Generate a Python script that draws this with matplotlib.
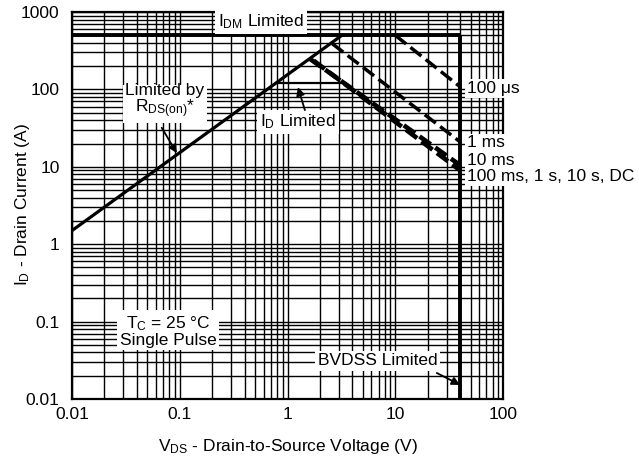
import matplotlib
matplotlib.use('Agg')
import matplotlib.pyplot as plt
from matplotlib.ticker import LogLocator, FuncFormatter, NullFormatter

plt.rcParams['font.family'] = ['Liberation Sans', 'DejaVu Sans']
plt.rcParams['mathtext.fontset'] = 'custom'
plt.rcParams['mathtext.rm'] = 'Liberation Sans'
plt.rcParams['mathtext.it'] = 'Liberation Sans:italic'
plt.rcParams['mathtext.bf'] = 'Liberation Sans:bold'

# ---- data (V, A) ----
idm_v = [0.01, 40]
idm_i = [500, 500]
bvdss_v = [40, 40]
bvdss_i = [500, 0.01]
rds_v = [0.01, 3.2]
rds_i = [1.5, 500]
idlim_v = [0.8, 3.27]
idlim_i = [120, 120]
us100_v = [10, 40]
us100_i = [500, 108]
ms1_v = [2.6, 40]
ms1_i = [390, 21]
ms10_v = [1.6, 40]
ms10_i = [250, 10.5]
dc_v = [1.75, 40]
dc_i = [235, 9]

x_ticks = [0.01, 0.1, 1, 10, 100]
y_ticks = [0.01, 0.1, 1, 10, 100, 1000]

FS = 12.5

fig = plt.figure(figsize=(6.39, 4.62), dpi=100)
ax = fig.add_axes([72 / 639, 1 - 399 / 462, 431 / 639, 387 / 462])
ax.set_xscale('log')
ax.set_yscale('log')
ax.set_xlim(x_ticks[0], x_ticks[-1])
ax.set_ylim(y_ticks[0], y_ticks[-1])

ax.set_xticks(x_ticks)
ax.set_yticks(y_ticks)
ax.xaxis.set_minor_locator(LogLocator(base=10, subs=range(2, 10), numticks=20))
ax.yaxis.set_minor_locator(LogLocator(base=10, subs=range(2, 10), numticks=20))
fmt = FuncFormatter(lambda v, p: '%g' % v)
ax.xaxis.set_major_formatter(fmt)
ax.yaxis.set_major_formatter(fmt)
ax.xaxis.set_minor_formatter(NullFormatter())
ax.yaxis.set_minor_formatter(NullFormatter())
ax.tick_params(which='both', length=0, labelsize=FS)
ax.tick_params(axis='x', pad=6)
ax.tick_params(axis='y', pad=9)
ax.grid(True, which='both', color='black', lw=1.0)
ax.set_axisbelow(True)
for s in ax.spines.values():
    s.set_linewidth(1.6)

# ---- lines ----
ax.plot(idm_v, idm_i, color='black', lw=2.8, solid_capstyle='butt', zorder=3)
ax.plot(bvdss_v, bvdss_i, color='black', lw=2.8, solid_capstyle='butt', zorder=3)
ax.plot(rds_v, rds_i, color='black', lw=2.3, zorder=3)
ax.plot(idlim_v, idlim_i, color='black', lw=1.6, zorder=3)
l1, = ax.plot(us100_v, us100_i, color='black', lw=2.5, zorder=3)
l1.set_dashes((4.0, 1.6))
l2, = ax.plot(ms1_v, ms1_i, color='black', lw=2.5, zorder=3)
l2.set_dashes((4.0, 1.6))
l3, = ax.plot(ms10_v, ms10_i, color='black', lw=3.3, zorder=3)
l3.set_dashes((3.0, 1.2))
l4, = ax.plot(dc_v, dc_i, color='black', lw=3.3, zorder=3)
l4.set_dashes((3.0, 1.2))

box = dict(boxstyle='square,pad=0.15', fc='white', ec='none')

ax.text(0.566, 743, r'I$_\mathregular{DM}$ Limited', ha='center', va='center',
        fontsize=FS, bbox=box, zorder=5)
ax.text(0.073, 70, 'Limited by\n' + r'R$_\mathregular{DS(on)}$*', ha='center', va='center',
        fontsize=FS, bbox=box, zorder=5, linespacing=1.0)
ax.annotate('', xy=(0.094, 15), xytext=(0.068, 32),
            arrowprops=dict(arrowstyle='-|>', color='black', lw=1.3,
                            mutation_scale=12, shrinkA=0, shrinkB=0), zorder=6)
ax.text(1.25, 38, r'I$_\mathregular{D}$ Limited', ha='center', va='center',
        fontsize=FS, bbox=box, zorder=5)
ax.annotate('', xy=(1.25, 107), xytext=(1.45, 54),
            arrowprops=dict(arrowstyle='-|>', color='black', lw=1.3,
                            mutation_scale=12, shrinkA=0, shrinkB=0), zorder=6)
ax.text(0.078, 0.0756, r'T$_\mathregular{C}$ = 25 °C' + '\nSingle Pulse', ha='center', va='center',
        fontsize=FS, bbox=box, zorder=5, linespacing=1.0)
ax.text(6.9, 0.031, 'BVDSS Limited', ha='center', va='center',
        fontsize=FS, bbox=box, zorder=5)
ax.annotate('', xy=(40, 0.0152), xytext=(24.3, 0.0217),
            arrowprops=dict(arrowstyle='-|>', color='black', lw=1.3,
                            mutation_scale=12, shrinkA=0, shrinkB=0), zorder=6)

rbox = dict(boxstyle='square,pad=0.1', fc='white', ec='none')
for yv, lab in [(102, '100 μs'), (20.3, '1 ms'), (11.9, '10 ms'), (7.5, '100 ms, 1 s, 10 s, DC')]:
    ax.text(46, yv, lab, ha='left', va='center', fontsize=FS, bbox=rbox,
            zorder=5, clip_on=False)

fig.text(23 / 639, 1 - 205 / 462, r'I$_\mathregular{D}$ - Drain Current (A)', rotation=90,
         ha='center', va='center', fontsize=FS)
fig.text(288 / 639, 1 - 446 / 462, r'V$_\mathregular{DS}$ - Drain-to-Source Voltage (V)',
         ha='center', va='center', fontsize=FS)

fig.savefig('out.png', dpi=100)
